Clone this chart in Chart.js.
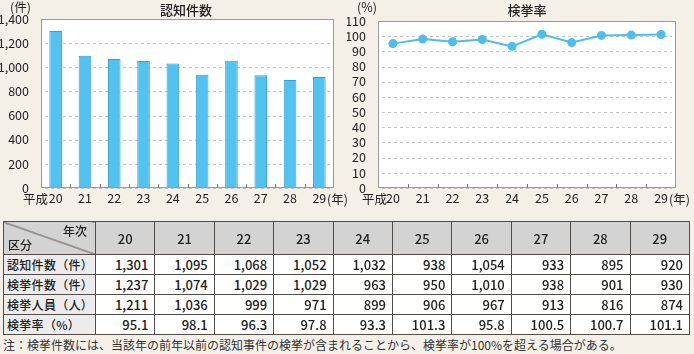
<!DOCTYPE html>
<html>
  <head>
    <meta charset="utf-8">
    <title>認知件数・検挙率</title>
    <style>
      html, body{ margin: 0; padding: 0; background-color: #f4f0e8; font-family: "Noto Sans CJK JP", sans-serif; color: #222; }
      .page{ position: relative; width: 694px; height: 354px; overflow: hidden; }
      canvas{ position: absolute; top: 0; }
      .lbl{ position: absolute; font-size: 12.5px; line-height: 14px; white-space: nowrap; }
      .ttl{ position: absolute; font-size: 13px; line-height: 16px; font-weight: 500; transform: translateX(-50%); white-space: nowrap; }
      table{ position: absolute; left: 3px; top: 221px; width: 687px; border-collapse: collapse; table-layout: fixed; font-size: 13px; }
      td, th{ border: 1.5px solid #534d49; padding: 0 6px; height: 19px; line-height: 19px; font-weight: 500; white-space: nowrap; overflow: hidden; }
      th{ background-color: #d3d3d3; height: 32px; text-align: center; }
      td{ background-color: #fff; text-align: right; }
      td.head{ background-color: #ececec; text-align: left; padding-left: 3px; font-size: 12px; letter-spacing: 0.3px; }
      th.corner{ position: relative; padding: 0; background: linear-gradient(to top right, #d3d3d3 calc(50% - 0.9px), #534d49 50%, #d3d3d3 calc(50% + 0.9px)); }
      .corner span{ position: absolute; font-size: 12px; line-height: 14px; }
      .note{ position: absolute; left: 3px; top: 338px; font-size: 12px; line-height: 14px; color: #333; white-space: nowrap; }
    </style>
    <script src="https://cdn.jsdelivr.net/npm/chart.js"></script>
  </head>
  <body>
    <div class="page">
      <canvas id="countChart" width="347" height="214" style="left:0"></canvas>
      <canvas id="rateChart" width="347" height="214" style="left:347px"></canvas>

      <div class="lbl" style="left:10px; top:0px;">(件)</div>
      <div class="ttl" style="left:186px; top:2px;">認知件数</div>
      <div class="lbl" style="left:23px; top:192px;">平成</div>
      <div class="lbl" style="left:327px; top:192px;">(年)</div>

      <div class="lbl" style="left:357px; top:0px;">(%)</div>
      <div class="ttl" style="left:527px; top:2px;">検挙率</div>
      <div class="lbl" style="left:362px; top:192px;">平成</div>
      <div class="lbl" style="left:669px; top:192px;">(年)</div>

      <table id="tbl"></table>
      <div class="note">注：検挙件数には、当該年の前年以前の認知事件の検挙が含まれることから、検挙率が100%を超える場合がある。</div>
    </div>

    <script>
      // data
      const years = ['20', '21', '22', '23', '24', '25', '26', '27', '28', '29'];
      const recognized = [1301, 1095, 1068, 1052, 1032, 938, 1054, 933, 895, 920];
      const cleared = [1237, 1074, 1029, 1029, 963, 950, 1010, 938, 901, 930];
      const arrested = [1211, 1036, 999, 971, 899, 906, 967, 913, 816, 874];
      const clearRate = [95.1, 98.1, 96.3, 97.8, 93.3, 101.3, 95.8, 100.5, 100.7, 101.1];
      const rowNames = ['認知件数（件）', '検挙件数（件）', '検挙人員（人）', '検挙率（%）'];

      Chart.defaults.font.family = '"Noto Sans CJK JP", sans-serif';
      Chart.defaults.font.size = 12.5;
      Chart.defaults.color = '#222';

      // white plot area, dashed grid, grey frame and small inside ticks between categories
      const frame = {
        id: 'frame',
        beforeDatasetsDraw(chart) {
          const a = chart.chartArea, c = chart.ctx, y = chart.scales.y;
          c.save();
          c.fillStyle = '#fff';
          c.fillRect(a.left, a.top, a.right - a.left, a.bottom - a.top);
          c.strokeStyle = '#c4c4c4';
          c.lineWidth = 1;
          c.setLineDash([3, 3]);
          y.ticks.forEach(t => {
            const py = Math.round(y.getPixelForValue(t.value)) + 0.5;
            c.beginPath();
            c.moveTo(a.left + 4, py);
            c.lineTo(a.right - 4, py);
            c.stroke();
          });
          c.restore();
        },
        afterDraw(chart) {
          const a = chart.chartArea, c = chart.ctx, x = chart.scales.x;
          c.save();
          c.strokeStyle = '#9a9a9a';
          c.lineWidth = 1;
          c.strokeRect(a.left + 0.5, a.top + 0.5, a.right - a.left - 1, a.bottom - a.top - 1);
          c.strokeStyle = '#777';
          for (let i = 0; i < years.length - 1; i++) {
            const px = Math.round((x.getPixelForTick(i) + x.getPixelForTick(i + 1)) / 2) + 0.5;
            c.beginPath();
            c.moveTo(px, a.bottom);
            c.lineTo(px, a.bottom - 4);
            c.stroke();
          }
          c.restore();
        }
      };

      function scalesFor(max, step, yWidth) {
        return {
          x: {
            offset: true,
            grid: { display: false },
            border: { display: false },
            ticks: { padding: -5, maxRotation: 0, autoSkip: false, color: '#222' },
            afterFit(s) { s.height = 26; }
          },
          y: {
            min: 0, max: max,
            ticks: { stepSize: step, padding: 4, autoSkip: false, color: '#222' },
            grid: { display: false },
            border: { display: false },
            afterFit(s) { s.width = yWidth; }
          }
        };
      }

      new Chart(document.getElementById('countChart'), {
        type: 'bar',
        data: {
          labels: years,
          datasets: [{
            data: recognized,
            backgroundColor: '#52c3f0',
            borderColor: '#3a9fcc',
            borderWidth: { top: 1, left: 1, right: 1, bottom: 0 },
            categoryPercentage: 1,
            barPercentage: 0.43
          }]
        },
        options: {
          responsive: false,
          animation: false,
          layout: { padding: { top: 19, right: 13, left: 0, bottom: 0 } },
          plugins: { legend: { display: false }, tooltip: { enabled: false } },
          scales: scalesFor(1400, 200, 41)
        },
        plugins: [frame]
      });

      new Chart(document.getElementById('rateChart'), {
        type: 'line',
        data: {
          labels: years,
          datasets: [{
            data: clearRate,
            borderColor: '#4dbdf0',
            backgroundColor: '#4dbdf0',
            borderWidth: 2,
            pointRadius: 3.5,
            tension: 0
          }]
        },
        options: {
          responsive: false,
          animation: false,
          layout: { padding: { top: 21, right: 18, left: 0, bottom: 0 } },
          plugins: { legend: { display: false }, tooltip: { enabled: false } },
          scales: scalesFor(110, 10, 31)
        },
        plugins: [frame]
      });

      // table
      const fmt = v => v.toLocaleString('en-US');
      let html = '<colgroup><col style="width:92px">' + years.map(() => '<col>').join('') + '</colgroup>';
      html += '<tr><th class="corner"><span style="right:8px; top:2px;">年次</span><span style="left:4px; bottom:2px;">区分</span></th>' +
        years.map(y => '<th>' + y + '</th>').join('') + '</tr>';
      const rows = [recognized.map(fmt), cleared.map(fmt), arrested.map(fmt), clearRate.map(v => v.toFixed(1))];
      rows.forEach((r, i) => {
        html += '<tr><td class="head">' + rowNames[i] + '</td>' + r.map(v => '<td>' + v + '</td>').join('') + '</tr>';
      });
      document.getElementById('tbl').innerHTML = html;
    </script>
  </body>
</html>
